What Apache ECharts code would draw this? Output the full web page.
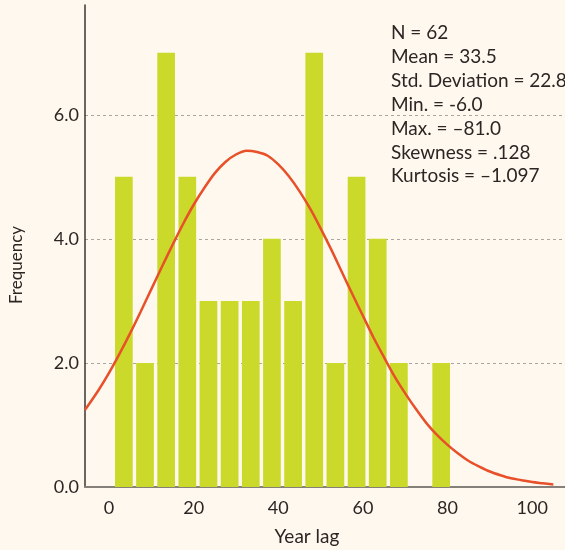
<!DOCTYPE html>
<html>
<head>
<meta charset="utf-8">
<script src="https://cdn.jsdelivr.net/npm/echarts@6/dist/echarts.min.js"></script>
<style>
  html, body { margin: 0; padding: 0; background: #fef8ef; }
  #chart { width: 565px; height: 550px; }
</style>
</head>
<body>
<div id="chart"></div>
<script>
// Histogram of year lag: bin centres and counts
const binCenters = [3.5, 8.5, 13.5, 18.5, 23.5, 28.5, 33.5, 38.5, 43.5, 48.5, 53.5, 58.5, 63.5, 68.5, 73.5, 78.5];
const frequencies = [5, 2, 7, 5, 3, 3, 3, 4, 3, 7, 2, 5, 4, 2, 0, 2];

// Fitted normal curve (x, frequency)
const curveX = [-5.7, -2.5, 0, 2.5, 5, 7.5, 10, 12.5, 15, 17.5, 20, 22.5, 25, 27.5, 30, 32.5, 35, 37.5, 40,
  42.5, 45, 47.5, 50, 52.5, 55, 57.5, 60, 62.5, 65, 67.5, 70, 72.5, 75, 77.5, 80, 82.5, 85, 87.5, 90,
  92.5, 95, 97.5, 100, 102.5, 105];
const curveY = [1.24, 1.56, 1.84, 2.15, 2.48, 2.83, 3.19, 3.55, 3.90, 4.24, 4.55, 4.82, 5.06, 5.24, 5.36, 5.42, 5.40, 5.34, 5.20,
  5.01, 4.77, 4.49, 4.17, 3.83, 3.47, 3.11, 2.76, 2.41, 2.09, 1.78, 1.51, 1.26, 1.03, 0.84, 0.68, 0.54, 0.42, 0.33, 0.25,
  0.19, 0.14, 0.11, 0.08, 0.06, 0.04];

const xTickValues = [0, 20, 40, 60, 80, 100];
const yTickValues = [0, 2, 4, 6];

const statsLines = [
  'N = 62',
  'Mean = 33.5',
  'Std. Deviation = 22.8',
  'Min. = -6.0',
  'Max. = –81.0',
  'Skewness = .128',
  'Kurtosis = –1.097'
];

const FONT = 'Lato';
const TEXT = '#2b2624';

const chart = echarts.init(document.getElementById('chart'), null, { renderer: 'canvas' });

chart.setOption({
  backgroundColor: '#fef8ef',
  animation: false,
  grid: { left: 85, right: 0, top: 5, bottom: 63, outerBoundsMode: 'none' },
  xAxis: {
    type: 'value',
    min: -5.68,
    max: 107.76,
    axisLine: { show: true, lineStyle: { color: '#86807a', width: 2 } },
    axisTick: { show: false },
    splitLine: { show: false },
    axisLabel: {
      customValues: xTickValues,
      margin: 12,
      fontFamily: FONT,
      fontSize: 18,
      color: TEXT
    }
  },
  yAxis: {
    type: 'value',
    min: 0,
    max: 7.77,
    interval: 2,
    axisLine: { show: true, onZero: false, lineStyle: { color: '#3a3633', width: 1.5 } },
    axisTick: { show: false },
    splitLine: {
      show: true,
      showMinLine: false,
      showMaxLine: false,
      lineStyle: { color: '#a9a5a0', type: [3, 3], width: 1 }
    },
    axisLabel: {
      showMaxLabel: false,
      margin: 6,
      fontFamily: FONT,
      fontSize: 18,
      color: TEXT,
      formatter: v => (yTickValues.indexOf(v) >= 0 ? v.toFixed(1) : '')
    }
  },
  series: [
    {
      type: 'bar',
      data: binCenters.map((c, i) => [c, frequencies[i]]),
      barWidth: 17.7,
      itemStyle: { color: '#cbd92a' },
      z: 2
    },
    {
      type: 'line',
      data: curveX.map((x, i) => [x, curveY[i]]),
      smooth: 0.3,
      showSymbol: false,
      lineStyle: { color: '#e8502a', width: 2.5 },
      z: 3
    }
  ],
  graphic: [
    {
      type: 'text',
      left: 391,
      top: 21,
      style: {
        text: statsLines.join('\n'),
        fontFamily: FONT,
        fontSize: 19,
        lineHeight: 23.9,
        fill: TEXT
      },
      z: 10
    },
    {
      type: 'text',
      x: 17,
      y: 265,
      rotation: Math.PI / 2,
      style: {
        text: 'Frequency',
        fontFamily: FONT,
        fontSize: 17,
        fill: TEXT,
        align: 'center',
        verticalAlign: 'middle'
      }
    },
    {
      type: 'text',
      x: 307,
      y: 537,
      style: {
        text: 'Year lag',
        fontFamily: FONT,
        fontSize: 19,
        fill: TEXT,
        align: 'center',
        verticalAlign: 'middle'
      }
    }
  ]
});
</script>
</body>
</html>
